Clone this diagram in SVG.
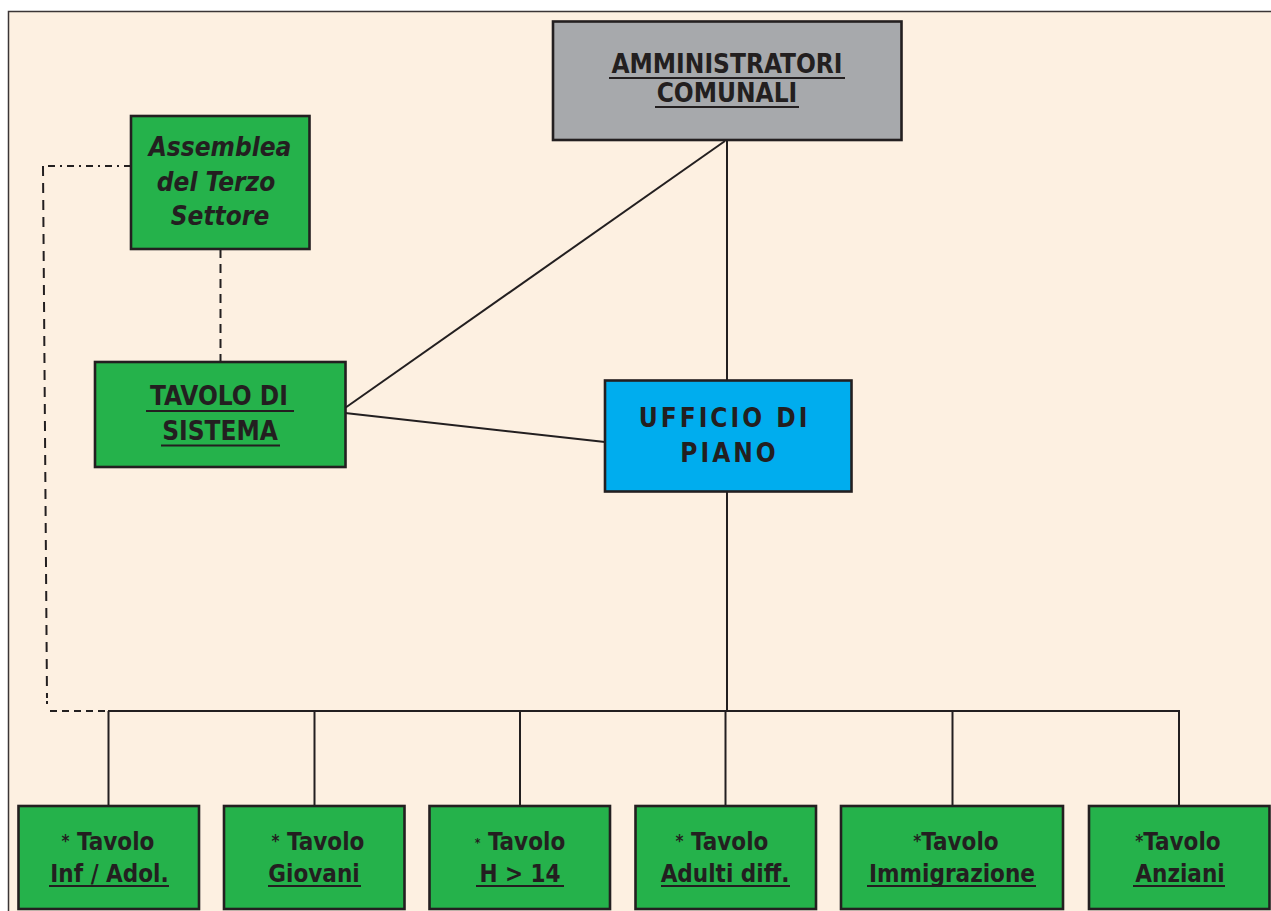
<svg xmlns="http://www.w3.org/2000/svg" width="1271" height="911" viewBox="0 0 1271 911">
  <style>
    .box { stroke: #231f20; stroke-width: 2.6; }
    .green { fill: #25b24b; }
    .gray { fill: #a7a9ac; }
    .blue { fill: #00adee; }
    .lbl { font-family: "DejaVu Sans Condensed", "DejaVu Sans", sans-serif; font-stretch: condensed; font-weight: bold; fill: #231f20; text-anchor: middle; }
    .big { font-size: 26px; }
    .small { font-size: 24px; }
    .ul { stroke: #231f20; stroke-width: 2.2; }
    .conn { stroke: #231f20; stroke-width: 2; fill: none; }
    .dash { stroke-dasharray: 9 6; }
  </style>

  <!-- page -->
  <rect x="0" y="0" width="1271" height="911" fill="#ffffff"/>
  <rect x="8.5" y="11.5" width="1270" height="910" fill="#fdf0e1" stroke="#3b3536" stroke-width="1.5"/>

  <!-- connectors -->
  <g id="connectors">
    <line class="conn" x1="727" y1="140" x2="727" y2="380"/>
    <line class="conn" x1="725" y1="141" x2="345" y2="408"/>
    <line class="conn" x1="345" y1="413" x2="605" y2="442"/>
    <line class="conn" x1="727" y1="492" x2="727" y2="711"/>
    <line class="conn" x1="108" y1="711" x2="1179" y2="711"/>
    <line class="conn" x1="108.5" y1="711" x2="108.5" y2="806"/>
    <line class="conn" x1="314.5" y1="711" x2="314.5" y2="806"/>
    <line class="conn" x1="520" y1="711" x2="520" y2="806"/>
    <line class="conn" x1="725.5" y1="711" x2="725.5" y2="806"/>
    <line class="conn" x1="952.5" y1="711" x2="952.5" y2="806"/>
    <line class="conn" x1="1179" y1="710" x2="1179" y2="806"/>
    <!-- dashed links of the third sector assembly -->
    <line class="conn dash" x1="220.5" y1="249" x2="220.5" y2="362"/>
    <line class="conn" x1="131" y1="166" x2="43" y2="166" stroke-dasharray="7 5 2 5"/>
    <line class="conn" x1="43" y1="166" x2="47" y2="698" stroke-dasharray="10 7"/>
    <line class="conn" x1="47" y1="701" x2="47" y2="704" />
    <line class="conn" x1="50" y1="711" x2="108" y2="711" stroke-dasharray="7 5"/>
  </g>

  <g id="amministratori">
    <rect class="box gray" x="553" y="21.5" width="348.5" height="118.5"/>
    <text class="lbl big" x="727" y="73">AMMINISTRATORI</text>
    <line class="ul" x1="609" y1="78" x2="845" y2="78"/>
    <text class="lbl big" x="727" y="102">COMUNALI</text>
    <line class="ul" x1="655" y1="107" x2="799" y2="107"/>
  </g>

  <g id="assemblea">
    <rect class="box green" x="131" y="116" width="178.5" height="133"/>
    <text class="lbl big" x="220" y="156" font-style="italic">Assemblea</text>
    <text class="lbl big" x="216" y="191" font-style="italic">del Terzo</text>
    <text class="lbl big" x="220" y="225" font-style="italic">Settore</text>
  </g>

  <g id="tavolo-sistema">
    <rect class="box green" x="95" y="362" width="250.5" height="105"/>
    <text class="lbl big" x="219" y="405">TAVOLO DI</text>
    <line class="ul" x1="146" y1="411" x2="294" y2="411"/>
    <text class="lbl big" x="220" y="440">SISTEMA</text>
    <line class="ul" x1="161" y1="445.5" x2="280" y2="445.5"/>
  </g>

  <g id="ufficio-piano">
    <rect class="box blue" x="605" y="380.5" width="246.5" height="111"/>
    <text class="lbl big" x="724.5" y="427" letter-spacing="3">UFFICIO DI</text>
    <text class="lbl big" x="729.5" y="462" letter-spacing="3">PIANO</text>
  </g>

  <g id="tavolo-inf">
    <rect class="box green" x="18.5" y="806" width="180.5" height="103"/>
    <text class="lbl small" x="108" y="850"><tspan font-size="17" dy="-3">*</tspan><tspan dy="3"> Tavolo</tspan></text>
    <text class="lbl small" x="109.5" y="882">Inf / Adol.</text>
    <line class="ul" x1="49" y1="886" x2="169" y2="886"/>
  </g>

  <g id="tavolo-giovani">
    <rect class="box green" x="224" y="806" width="180.5" height="103"/>
    <text class="lbl small" x="318" y="850"><tspan font-size="17" dy="-3">*</tspan><tspan dy="3"> Tavolo</tspan></text>
    <text class="lbl small" x="314" y="882">Giovani</text>
    <line class="ul" x1="268" y1="886" x2="361" y2="886"/>
  </g>

  <g id="tavolo-h14">
    <rect class="box green" x="429.5" y="806" width="180.5" height="103"/>
    <text class="lbl small" x="520" y="850"><tspan font-size="12" dy="-3">*</tspan><tspan dy="3"> Tavolo</tspan></text>
    <text class="lbl small" x="520" y="882">H &gt; 14</text>
    <line class="ul" x1="476" y1="886" x2="564" y2="886"/>
  </g>

  <g id="tavolo-adulti">
    <rect class="box green" x="635.5" y="806" width="180.5" height="103"/>
    <text class="lbl small" x="722" y="850"><tspan font-size="17" dy="-3">*</tspan><tspan dy="3"> Tavolo</tspan></text>
    <text class="lbl small" x="725" y="882">Adulti diff.</text>
    <line class="ul" x1="661" y1="886" x2="790" y2="886"/>
  </g>

  <g id="tavolo-immigrazione">
    <rect class="box green" x="841" y="806" width="222" height="103"/>
    <text class="lbl small" x="956" y="850"><tspan font-size="17" dy="-3">*</tspan><tspan dy="3">Tavolo</tspan></text>
    <text class="lbl small" x="952" y="882">Immigrazione</text>
    <line class="ul" x1="867" y1="886" x2="1036" y2="886"/>
  </g>

  <g id="tavolo-anziani">
    <rect class="box green" x="1089" y="806" width="180.5" height="103"/>
    <text class="lbl small" x="1178" y="850"><tspan font-size="17" dy="-3">*</tspan><tspan dy="3">Tavolo</tspan></text>
    <text class="lbl small" x="1180" y="882">Anziani</text>
    <line class="ul" x1="1133" y1="886" x2="1225" y2="886"/>
  </g>
</svg>
